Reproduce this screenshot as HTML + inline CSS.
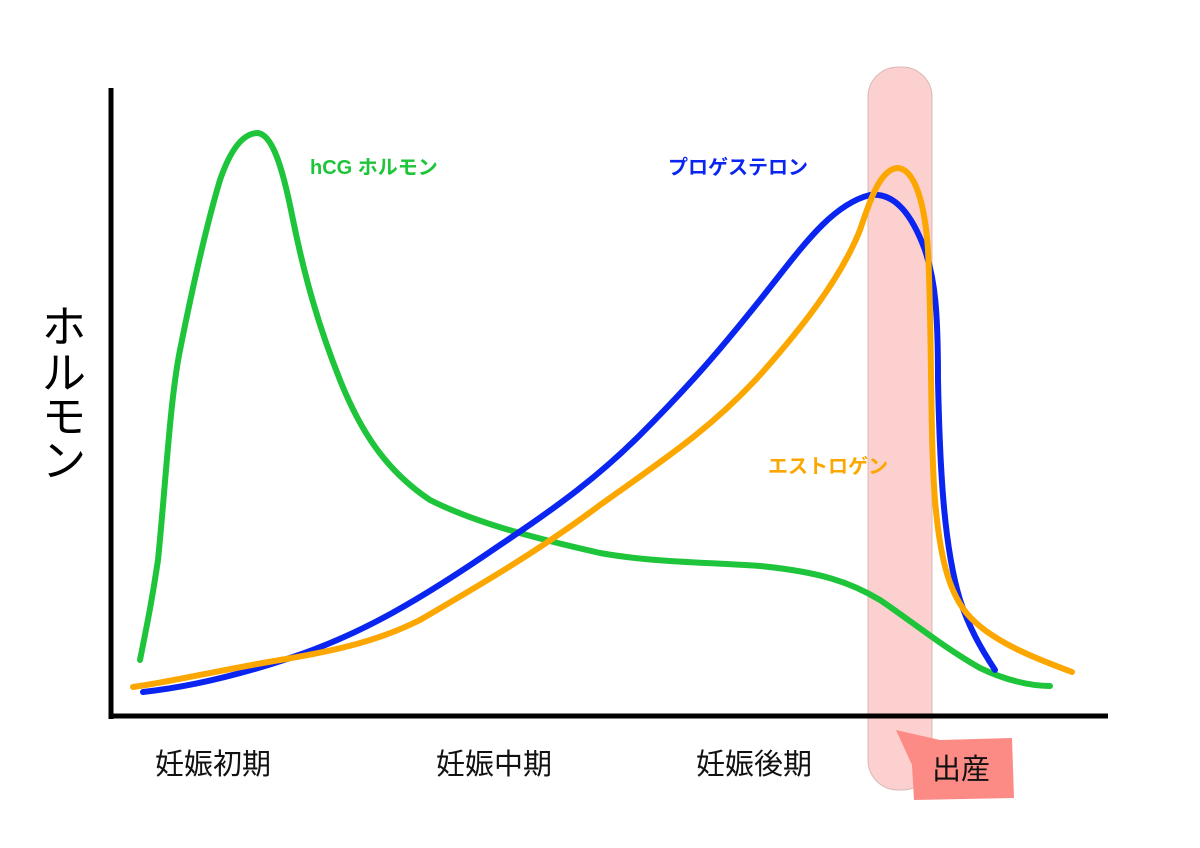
<!DOCTYPE html><html><head><meta charset="utf-8"><style>body{margin:0;background:#fff}svg{display:block}text{font-family:"Liberation Sans","Noto Sans CJK JP",sans-serif}</style></head><body>
<svg width="1200" height="848" viewBox="0 0 1200 848">
<rect x="868" y="67" width="64" height="723" rx="30" fill="#fdd0d0" stroke="#d8b8b8" stroke-width="1"/>
<path d="M896,730 L940,740 L1012,738 L1014,798 L914,800 L912,765 Z" fill="#fc8b86"/>
<line x1="111" y1="88" x2="111" y2="719" stroke="#000" stroke-width="5"/>
<line x1="109" y1="716" x2="1108" y2="716" stroke="#000" stroke-width="5"/>
<g fill="none" stroke-width="6" stroke-linecap="round" stroke-linejoin="round">
<path stroke="#1ec43a" d="M140,660 C148,620 152,600 158,560 C166,480 170,400 180,350 C192,290 205,230 220,180 C232,145 245,133 258,133 C272,135 282,165 292,215 C305,280 320,330 340,380 C360,430 385,470 430,500 C470,520 520,535 600,553 C650,562 700,562 760,566 C820,572 850,582 880,600 C910,620 940,645 980,668 C1005,680 1030,686 1050,686"/>
<path stroke="#0a25f0" d="M143,692 C180,688 230,678 290,658 C360,635 420,600 500,545 C560,505 600,475 640,435 C690,385 720,350 760,300 C800,250 830,205 870,195 C895,192 912,215 925,250 C935,280 938,310 938,380 C940,480 945,550 960,600 C970,630 982,650 995,670"/>
<path stroke="#fca700" d="M133,687 C170,682 220,670 280,660 C340,650 380,640 420,620 C480,585 540,550 600,505 C660,462 710,430 760,375 C800,330 840,280 860,230 C870,200 880,170 897,168 C915,168 925,205 928,250 C932,330 930,440 935,500 C940,560 950,600 975,622 C1000,645 1040,660 1072,672"/>
</g>
<text x="310" y="174" font-size="20" font-weight="bold" fill="#1ec43a">hCG ホルモン</text>
<text x="668" y="174" font-size="20" font-weight="bold" fill="#0a25f0">プロゲステロン</text>
<text x="768" y="473" font-size="20" font-weight="bold" fill="#fca700">エストロゲン</text>
<g font-size="44" fill="#000" text-anchor="middle"><text x="64" y="342">ホ</text><text x="64" y="388">ル</text><text x="64" y="432">モ</text><text x="64" y="476">ン</text></g>
<g font-size="29" fill="#111" text-anchor="middle"><text x="213" y="774">妊娠初期</text><text x="494" y="774">妊娠中期</text><text x="754" y="774">妊娠後期</text><text x="961" y="779">出産</text></g>
</svg></body></html>
